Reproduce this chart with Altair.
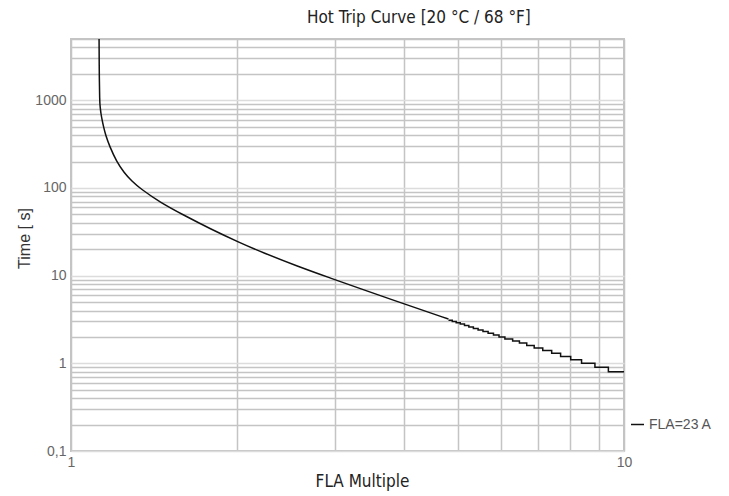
import altair as alt
import pandas as pd

SERIES = "FLA=23 A"

# Upper, smooth part of the hot trip curve: FLA multiple vs. trip time [s]
head_x = [1.124, 1.125, 1.127, 1.128, 1.130, 1.133, 1.138, 1.145, 1.155, 1.174,
          1.209, 1.247, 1.289, 1.333, 1.449, 1.594, 1.784, 2.021, 2.224, 2.559,
          2.941, 3.373, 4.103, 4.815]
head_t = [5000, 1700, 1000, 900, 800, 700, 600, 500, 400, 300,
          200, 150, 119, 99, 68.5, 49.5, 34.3, 23.7, 18.3, 12.9,
          9.41, 6.92, 4.52, 3.2]

# Lower part, where the trip time is resolved in 0.1 s steps
tail_x = [4.815, 4.892, 4.972, 5.057, 5.147, 5.241, 5.341, 5.447, 5.559, 5.679,
          5.807, 5.943, 6.09, 6.29, 6.47, 6.67, 6.88, 7.13, 7.40, 7.68,
          8.01, 8.38, 8.86, 9.37, 10.0]
tail_t = [3.1, 3.0, 2.9, 2.8, 2.7, 2.6, 2.5, 2.4, 2.3, 2.2,
          2.1, 2.0, 1.9, 1.8, 1.7, 1.6, 1.5, 1.4, 1.3, 1.2,
          1.1, 1.0, 0.9, 0.8, 0.8]

# Axis ticks / grid
x_grid = list(range(1, 11))
y_grid = [round(m * 10 ** e, 6) for e in range(-1, 3) for m in range(1, 10)] + [1000, 2000, 3000, 4000, 5000]

head = pd.DataFrame({"x": head_x, "t": head_t, "series": SERIES})
tail = pd.DataFrame({"x": tail_x, "t": tail_t, "series": SERIES})

NARROW = "Liberation Sans Narrow, DejaVu Sans Condensed, sans-serif"
SANS = "Liberation Sans, Arial, sans-serif"

x_enc = alt.X(
    "x:Q",
    scale=alt.Scale(type="log", domain=[1, 10], nice=False),
    axis=alt.Axis(
        values=x_grid,
        labelExpr="datum.value == 1 || datum.value == 10 ? format(datum.value, 'd') : ''",
        labelOverlap=False,
        labelFlush=False,
        labelFont=SANS,
        labelFontSize=14,
        labelColor="#666",
        labelPadding=4,
        ticks=False,
        domain=False,
        gridColor="#c4c4c4",
        gridWidth=1.5,
        title="FLA Multiple",
        titleFont=NARROW,
        titleFontSize=17,
        titleFontWeight="normal",
        titleColor="#222",
        titleX=291,
        titleY=30,
        titleAlign="center",
        titleBaseline="middle",
    ),
)

y_enc = alt.Y(
    "t:Q",
    scale=alt.Scale(type="log", domain=[0.1, 5000], nice=False),
    axis=alt.Axis(
        values=y_grid,
        labelExpr="datum.value == 0.1 ? '0,1' : (indexof([1, 10, 100, 1000], datum.value) >= 0 ? format(datum.value, 'd') : '')",
        labelOverlap=False,
        labelFont=SANS,
        labelFontSize=14,
        labelColor="#666",
        labelPadding=5,
        ticks=False,
        domain=False,
        gridColor={"condition": {"test": "indexof([0.1, 1, 10, 100, 1000], datum.value) >= 0", "value": "#dcdcdc"},
                   "value": "#c4c4c4"},
        gridWidth=1.5,
        title="Time [ s]",
        titleFont=SANS,
        titleFontSize=16,
        titleFontWeight="normal",
        titleColor="#333",
        titleX=-47,
        titleY=199,
        titleAlign="center",
        titleBaseline="middle",
    ),
)

color_enc = alt.Color(
    "series:N",
    scale=alt.Scale(domain=[SERIES], range=["#111111"]),
    legend=alt.Legend(
        title=None,
        orient="none",
        legendX=559,
        legendY=378,
        symbolType="stroke",
        symbolSize=169,
        symbolStrokeWidth=1.5,
        labelFont=SANS,
        labelFontSize=14,
        labelColor="#555",
        labelOffset=4,
        padding=0,
    ),
)

smooth = alt.Chart(head).mark_line(interpolate="basis", strokeWidth=1.5, clip=True).encode(
    x=x_enc, y=y_enc, color=color_enc
)
stepped = alt.Chart(tail).mark_line(interpolate="step-after", strokeWidth=1.5, clip=True).encode(
    x="x:Q", y="t:Q", color="series:N"
)

chart = (
    alt.layer(smooth, stepped)
    .properties(
        width=553,
        height=412,
        autosize=alt.AutoSizeParams(type="none"),
        padding={"left": 71, "top": 39, "right": 105, "bottom": 45},
        title=alt.TitleParams(
            "Hot Trip Curve [20 °C / 68 °F]",
            anchor="start",
            frame="group",
            dx=236,
            offset=5,
            font=NARROW,
            fontSize=17,
            fontWeight="normal",
            color="#222",
        ),
    )
    .configure_view(stroke="#c4c4c4", strokeWidth=2)
)

chart.save("out.html", embed_options={"renderer": "svg", "actions": False})
